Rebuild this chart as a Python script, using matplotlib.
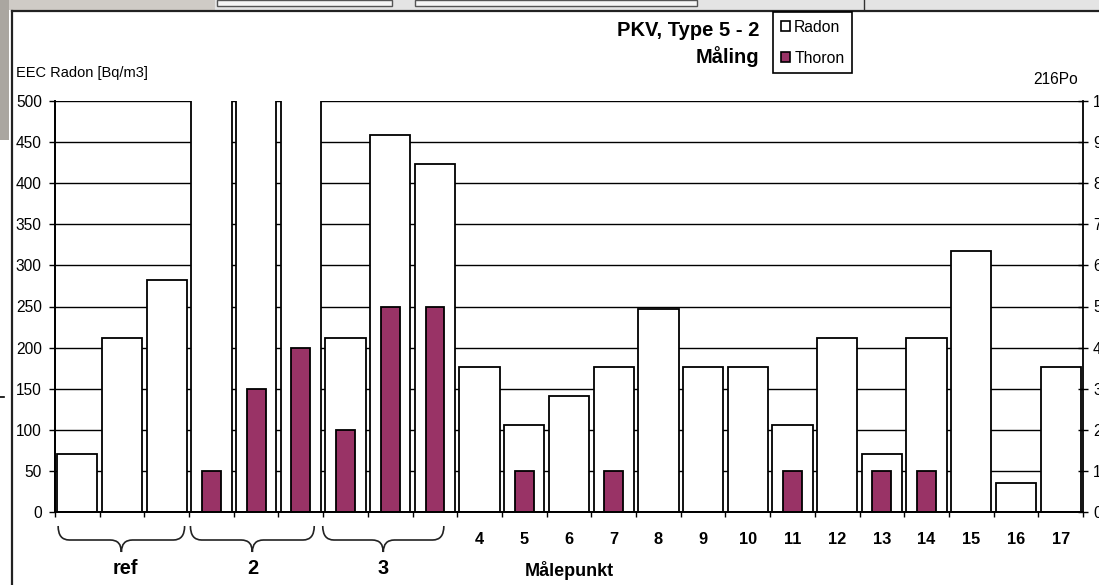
import numpy as np
import matplotlib.pyplot as plt
import matplotlib.transforms as mtransforms
from matplotlib.patches import Rectangle, PathPatch, Patch
from matplotlib.path import Path
from matplotlib.lines import Line2D

plt.rcParams['font.family'] = ['Liberation Sans', 'DejaVu Sans']

W, H = 1099, 585

# --- data ---
groups = ['ref', '2', '3']          # each group holds 3 bars
points = ['4', '5', '6', '7', '8', '9', '10', '11', '12', '13', '14', '15', '16', '17']
tick_labels = [''] * 9 + points
# EEC Radon [Bq/m3]; group 2 goes off the top of the scale
radon = [70.6, 211.8, 282.4, 600, 600, 600, 211.8, 459.0, 423.6,
         176.5, 105.9, 141.2, 176.5, 247.1, 176.5, 176.5, 105.9,
         211.8, 70.6, 211.8, 317.7, 35.3, 176.5]
# 216Po (right axis)
thoron = [0, 0, 0, 1, 3, 4, 2, 5, 5,
          0, 1, 0, 1, 0, 0, 0, 1, 0, 1, 1, 0, 0, 0]
left_ticks = list(range(0, 501, 50))
right_ticks = list(range(0, 11))

maroon = '#993366'


def fx(x):
    return x / W


def fy(y):
    return 1 - y / H


fig = plt.figure(figsize=(W / 100, H / 100), dpi=100)
fig.patch.set_facecolor('white')

# screenshot surroundings
fig.add_artist(Rectangle((0, fy(10)), 1, 10 / H, transform=fig.transFigure,
                         facecolor='#e4e4e4', edgecolor='none', zorder=0))
fig.add_artist(Rectangle((0, fy(10)), fx(215), 10 / H, transform=fig.transFigure,
                         facecolor='#cfcbc6', edgecolor='none', zorder=0))
fig.add_artist(Rectangle((0, fy(140)), fx(9), 140 / H, transform=fig.transFigure,
                         facecolor='#aaa6a0', edgecolor='none', zorder=0))
for x0, x1 in [(217, 392), (415, 697)]:
    fig.add_artist(Rectangle((fx(x0), fy(6)), fx(x1 - x0), 6 / H, transform=fig.transFigure,
                             facecolor='#f6f6f6', edgecolor='#555555', linewidth=1, zorder=0))
fig.add_artist(Line2D([fx(864), fx(864)], [fy(0), fy(10)], transform=fig.transFigure,
                      color='#333333', linewidth=1))
fig.add_artist(Line2D([0, fx(4)], [fy(397), fy(397)], transform=fig.transFigure,
                      color='black', linewidth=1.2))
# chart frame
fig.add_artist(Line2D([fx(12), 1], [fy(11), fy(11)], transform=fig.transFigure,
                      color='#222222', linewidth=1.6))
fig.add_artist(Line2D([fx(12), fx(12)], [fy(11), 0], transform=fig.transFigure,
                      color='#222222', linewidth=1.6))

ax = fig.add_axes([fx(55), fy(512), (1083 - 55) / W, (512 - 101) / H])
x = np.arange(len(radon))

ax.bar(x, radon, width=0.9, color='white', edgecolor='black', linewidth=1.3, zorder=2)
ax.set_xlim(-0.5, len(radon) - 0.5)
ax.set_ylim(0, 500)
ax.set_yticks(left_ticks)
ax.yaxis.grid(True, color='black', linewidth=1.0)
ax.set_axisbelow(True)
ax.tick_params(axis='y', direction='out', length=4, width=1, pad=5.5, labelsize=11.2)

ax.set_xticks(x, tick_labels, fontweight='bold', fontsize=11.8)
ax.tick_params(axis='x', which='major', length=0, pad=14.5)
ax.set_xticks(np.arange(-0.5, len(radon), 1), minor=True)
ax.tick_params(axis='x', which='minor', direction='out', length=3.5, width=1)

ax2 = ax.twinx()
ax2.bar(x, thoron, width=0.42, color=maroon, edgecolor='black', linewidth=1.3)
ax2.set_ylim(0, 10)
ax2.set_yticks(right_ticks)
ax2.tick_params(axis='y', direction='inout', length=6.5, width=1, pad=4, labelsize=11.2)

for a in (ax, ax2):
    a.spines['top'].set_visible(False)
    for s in ('left', 'right', 'bottom'):
        a.spines[s].set_linewidth(1.3)
ax.spines['right'].set_visible(False)

# hand-drawn braces and group labels under the first three measuring points
tr = mtransforms.blended_transform_factory(ax.transData, ax.transAxes)
y_top, y_mid, y_bot = -14 / 411, -28 / 411, -40 / 411
d = 0.25
for g, name in enumerate(groups):
    x0 = -0.43 + 2.96 * g
    x1 = 2.40 + 2.90 * g
    xc = (x0 + x1) / 2
    verts = [(x0, y_top), (x0, y_mid), (x0 + d, y_mid),
             (xc - d, y_mid), (xc, y_mid), (xc, y_bot),
             (xc, y_mid), (xc + d, y_mid),
             (x1 - d, y_mid), (x1, y_mid), (x1, y_top)]
    codes = [Path.MOVETO, Path.CURVE3, Path.CURVE3,
             Path.LINETO, Path.CURVE3, Path.CURVE3,
             Path.CURVE3, Path.CURVE3,
             Path.LINETO, Path.CURVE3, Path.CURVE3]
    ax.add_patch(PathPatch(Path(verts, codes), transform=tr, facecolor='none',
                           edgecolor='#222222', linewidth=1.2, clip_on=False))
    ax.text(xc + (0.08 if g == 0 else 0), -57 / 411, name, transform=tr,
            ha='center', va='center', fontsize=14.4, fontweight='bold')

# texts
fig.text(fx(16), fy(73), 'EEC Radon [Bq/m3]', ha='left', va='center', fontsize=10.5)
fig.text(fx(1078), fy(79), '216Po', ha='right', va='center', fontsize=11.2)
fig.text(fx(759), fy(30), 'PKV, Type 5 - 2', ha='right', va='center',
         fontsize=14.5, fontweight='bold')
fig.text(fx(759), fy(57), 'Måling', ha='right', va='center',
         fontsize=14.5, fontweight='bold')
fig.text(fx(569), fy(571), 'Målepunkt', ha='center', va='center',
         fontsize=13, fontweight='bold')

handles = [Patch(facecolor='white', edgecolor='black', linewidth=1.2),
           Patch(facecolor=maroon, edgecolor='black', linewidth=1.2)]
leg = fig.legend(handles, ['Radon', 'Thoron'], loc='upper left',
                 bbox_to_anchor=(fx(773), fy(12)), fontsize=11.3,
                 handlelength=0.6, handleheight=0.6, handletextpad=0.25,
                 labelspacing=1.0, borderpad=0.5, borderaxespad=0,
                 fancybox=False, framealpha=1, edgecolor='black')
leg.get_frame().set_linewidth(1.2)

fig.savefig('out.png', dpi=100)
